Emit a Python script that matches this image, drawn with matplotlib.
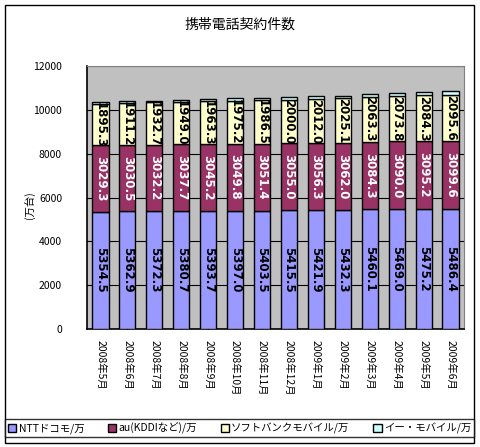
import matplotlib
matplotlib.use("Agg")
import matplotlib.pyplot as plt
from matplotlib.patches import Rectangle
import numpy as np

plt.rcParams['font.family'] = ['Noto Sans CJK JP', 'DejaVu Sans']

months = ["2008年5月", "2008年6月", "2008年7月", "2008年8月", "2008年9月", "2008年10月",
          "2008年11月", "2008年12月", "2009年1月", "2009年2月", "2009年3月", "2009年4月",
          "2009年5月", "2009年6月"]
ntt = [5354.5, 5362.9, 5372.3, 5380.7, 5393.7, 5397.0, 5403.5, 5415.5, 5421.9, 5432.3,
       5460.1, 5469.0, 5475.2, 5486.4]
au = [3029.3, 3030.5, 3032.2, 3037.7, 3045.2, 3049.8, 3051.4, 3055.0, 3056.3, 3062.0,
      3084.3, 3090.0, 3095.2, 3099.6]
sb = [1895.3, 1911.2, 1932.7, 1949.0, 1963.3, 1975.2, 1986.5, 2000.0, 2012.0, 2025.1,
      2063.3, 2073.8, 2084.3, 2095.6]
em = [72, 78, 84, 90, 96, 102, 108, 114, 120, 126, 134, 142, 150, 158]
series_names = ["NTTドコモ/万", "au(KDDIなど)/万", "ソフトバンクモバイル/万", "イー・モバイル/万"]
colors = ["#9999FF", "#993366", "#FFFFCC", "#CCFFFF"]
label_colors = ["black", "white", "black"]

W, H = 480, 447
fig = plt.figure(figsize=(W / 100, H / 100), dpi=100)
ax = fig.add_axes([87 / W, 1 - 329 / H, (464 - 87) / W, (329 - 66) / H])
ax.set_facecolor("#C0C0C0")

x = np.arange(len(months))
bottom = np.zeros(len(months))
handles = []
for i, (vals, c) in enumerate(zip([ntt, au, sb, em], colors)):
    vals = np.array(vals)
    b = ax.bar(x, vals, width=0.6, bottom=bottom, color=c, edgecolor="black",
               linewidth=1, zorder=3, label=series_names[i])
    handles.append(b)
    if i < 3:
        for xi, v, bt in zip(x, vals, bottom):
            ax.text(xi, bt + v / 2, f"{v:.1f}", rotation=-90, ha="center", va="center",
                    fontsize=8.5, fontweight="bold", color=label_colors[i], zorder=4,
                    family="DejaVu Sans")
    bottom = bottom + vals

ax.set_ylim(0, 12000)
ax.set_xlim(-0.5, len(months) - 0.5)
ax.set_yticks(np.arange(0, 12001, 2000))
ax.yaxis.grid(True, color="black", linewidth=0.8, zorder=0)
ax.set_xticks(x)
ax.set_xticklabels(months, rotation=-90, fontsize=7.5, va="top")
ax.tick_params(axis="y", labelsize=7.5, length=0, pad=18)
ax.tick_params(axis="x", length=3, direction="in", pad=8)
for s in ["top", "right"]:
    ax.spines[s].set_color("#808080")
for s in ["left", "bottom"]:
    ax.spines[s].set_color("black")
    ax.spines[s].set_linewidth(1.2)

fig.text(30 / W, 1 - 205 / H, "(万台)", rotation=90, ha="center", va="center", fontsize=7.5)
fig.text(0.5, 1 - 25 / H, "携帯電話契約件数", ha="center", va="center", fontsize=10)

leg = fig.legend(handles=handles, labels=series_names, loc="lower left",
                 bbox_to_anchor=(5 / W, 1 - 437 / H, (474 - 5) / W, 24 / H),
                 mode="expand", ncol=4, fontsize=7.5, frameon=True, fancybox=False,
                 handlelength=0.8, handleheight=0.8, handletextpad=0.2,
                 columnspacing=0.6, borderaxespad=0, borderpad=0.3)
leg.get_frame().set_edgecolor("black")
leg.get_frame().set_linewidth(1)

fig.patches.append(Rectangle((5 / W, 1 - 443 / H), (474 - 5) / W, (443 - 5) / H,
                             transform=fig.transFigure, fill=False, edgecolor="black",
                             linewidth=1))

fig.savefig("out.png", dpi=100)
